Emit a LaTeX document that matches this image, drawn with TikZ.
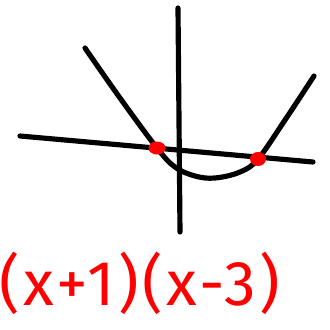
\documentclass[tikz,border=0pt]{standalone}
\usepackage{fontspec}
\setsansfont{Fira Sans}[LetterSpace=6]
\usepackage{tikz}
\usetikzlibrary{positioning}

\tikzset{
    sketch/.style={line width=4.4pt, line cap=round, line join=round, black},
    root/.style={fill=red, draw=none},
    factor/.style={text=red, font=\sffamily\fontsize{54}{58}\selectfont, inner sep=0pt}
}

\begin{document}
\begin{tikzpicture}[x={(0.03cm,0)}, y={(0,-0.03cm)}]
        % Frame
        \useasboundingbox (0,0) rectangle (330,329);

        % Coordinates
        \coordinate (Ytop) at (178,8);
        \coordinate (Ybot) at (180,232);
        \coordinate (Xleft) at (20,136);
        \coordinate (Xright) at (313,162);
        \coordinate (R1) at (157,148);
        \coordinate (R2) at (258,159);

        % Axes
        \draw[sketch] (Ytop) -- (Ybot);
        \draw[sketch] (Xleft) -- (Xright);

        % Parabola
        \draw[sketch] plot[smooth, tension=0.6] coordinates {(85,48) (120,98) (R1) (175,167) (195,176) (215,178) (240,172) (R2) (285,120) (314,76)};

        % Roots
        \fill[root] (R1) ellipse (8.5 and 6.5);
        \fill[root] (R2) ellipse (8 and 7);

        % Factored form
        \node[factor] (eq) at (140,283) {(x+1)(x-3)};
    \end{tikzpicture}
\end{document}
